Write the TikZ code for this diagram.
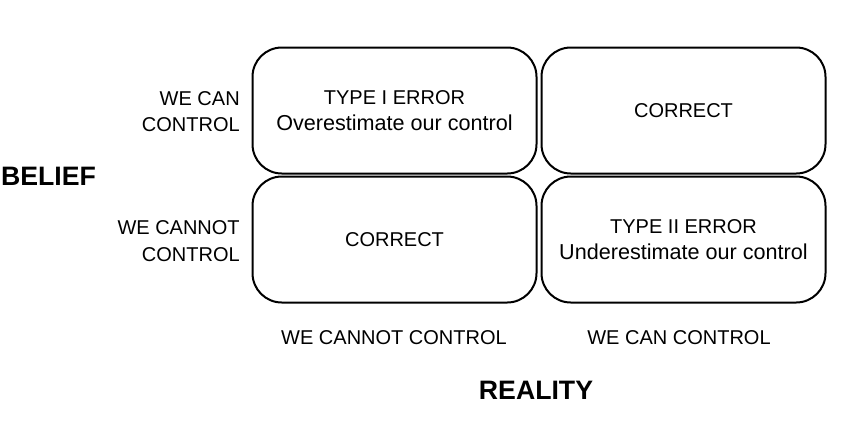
\documentclass[tikz,border=0pt]{standalone}
\usepackage{fontspec}
\setmainfont{Liberation Sans}
\newcommand{\capsize}{\fontsize{15}{20}\selectfont}
\newcommand{\mixsize}{\fontsize{16.2}{20}\selectfont}
\begin{document}
\begin{tikzpicture}[x=0.75pt, y=-0.75pt,
  cell/.style={draw=black, line width=1.5pt, rounded corners=22pt,
    minimum width=213pt, minimum height=94.5pt, align=center,
    inner sep=0pt, font=\capsize},
  axislabel/.style={inner sep=0pt, font=\capsize},
  axistitle/.style={inner sep=0pt, font=\fontsize{20}{24}\selectfont\bfseries}]
  \useasboundingbox (0,0) rectangle (860,426);

  % 2x2 grid of outcome cells
  \node[cell] (tl) at (394.5,110.5) {TYPE I ERROR\\{\mixsize Overestimate our control}};
  \node[cell] (tr) at (683.5,110.5) {CORRECT};
  \node[cell] (bl) at (394.5,239.5) {CORRECT};
  \node[cell] (br) at (683.5,239.5) {TYPE II ERROR\\{\mixsize Underestimate our control}};

  % Belief axis (rows)
  \node[axislabel, align=right, anchor=east] (rowcan) at (240,111.5) {WE CAN\\CONTROL};
  \node[axislabel, align=right, anchor=east] (rowcannot) at (240,241) {WE CANNOT\\CONTROL};
  \node[axistitle] (belief) at (48.5,176) {BELIEF};

  % Reality axis (columns)
  \node[axislabel] (colcannot) at (394,338) {WE CANNOT CONTROL};
  \node[axislabel] (colcan) at (679,338) {WE CAN CONTROL};
  \node[axistitle] (reality) at (536,390) {REALITY};
\end{tikzpicture}
\end{document}
